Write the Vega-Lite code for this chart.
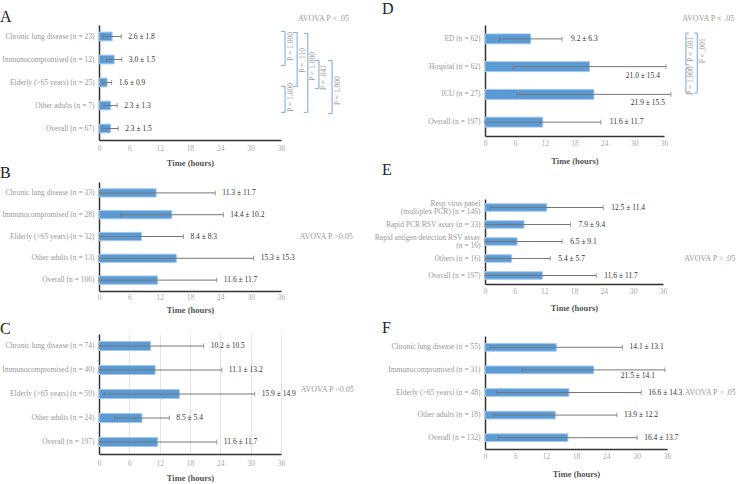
{
  "$schema": "https://vega.github.io/schema/vega-lite/v6.json",
  "padding": {"left": 0, "top": 0, "right": 0, "bottom": 0},
  "background": "white",
  "config": {
    "font": "Liberation Serif",
    "view": {"stroke": null},
    "axis": {"labelFont": "Liberation Serif", "titleFont": "Liberation Serif", "domainColor": "#333", "domainWidth": 1.5, "ticks": false, "tickSize": 0, "grid": false, "labelFontSize": 7.5, "labelColor": "#999", "labelPadding": 5, "labelOverlap": false},
    "axisX": {"labelFlush": false, "labelColor": "#aaa", "labelPadding": 3, "titleFontSize": 8.5, "titleFontWeight": "bold", "titleColor": "#555", "titlePadding": 8, "labelOverlap": false},
    "title": {"anchor": "start", "frame": "group", "font": "Liberation Serif", "fontSize": 16, "fontWeight": "normal", "color": "#222"},
    "text": {"font": "Liberation Serif"}
  },
  "spacing": 19,
  "hconcat": [
    {
      "spacing": -2,
      "vconcat": [
        {
          "title": {"text": "A", "dx": -99, "offset": -10},
          "width": 182, "height": 115,
          "resolve": {"scale": {"y": "independent"}},
          "layer": [
            {
              "data": {"values": [
                {"group": "Chronic lung disease (n = 23)", "mean": 2.6, "lo": 0.8, "hi": 4.4, "txt": "2.6 ± 1.8"},
                {"group": "Immunocompromised (n = 12)", "mean": 3.0, "lo": 1.5, "hi": 4.5, "txt": "3.0 ± 1.5"},
                {"group": "Elderly (>65 years) (n = 25)", "mean": 1.6, "lo": 0.7, "hi": 2.5, "txt": "1.6 ± 0.9"},
                {"group": "Other adults (n = 7)", "mean": 2.3, "lo": 1.0, "hi": 3.6, "txt": "2.3 ± 1.3"},
                {"group": "Overall (n = 67)", "mean": 2.3, "lo": 0.8, "hi": 3.8, "txt": "2.3 ± 1.5"}
              ]},
              "encoding": {"y": {"field": "group", "type": "nominal", "sort": null, "title": null, "scale": {"paddingInner": 0.62, "paddingOuter": 0.31}}},
              "layer": [
                {"mark": {"type": "bar", "color": "#5b9bd5", "stroke": "#a6c8ea", "strokeWidth": 1}, "encoding": {"x": {"field": "mean", "type": "quantitative", "title": "Time (hours)", "scale": {"domain": [0, 36], "nice": false}, "axis": {"values": [0, 6, 12, 18, 24, 30, 36], "tickCount": 7, "labelOverlap": false, "labelPadding": 4, "titlePadding": 7}}}},
                {"mark": {"type": "rule", "color": "#777", "strokeWidth": 1}, "encoding": {"x": {"field": "lo", "type": "quantitative", "title": "Time (hours)", "scale": {"domain": [0, 36], "nice": false}}, "x2": {"field": "hi"}}},
                {"mark": {"type": "tick", "color": "#777", "thickness": 1, "size": 5}, "encoding": {"x": {"field": "lo", "type": "quantitative", "title": "Time (hours)", "scale": {"domain": [0, 36], "nice": false}}}},
                {"mark": {"type": "tick", "color": "#777", "thickness": 1, "size": 5}, "encoding": {"x": {"field": "hi", "type": "quantitative", "title": "Time (hours)", "scale": {"domain": [0, 36], "nice": false}}}},
                {"transform": [{"filter": "datum.hi < 34"}], "mark": {"type": "text", "align": "left", "dx": 7, "fontSize": 7.5, "color": "#333"}, "encoding": {"x": {"field": "hi", "type": "quantitative", "title": "Time (hours)", "scale": {"domain": [0, 36], "nice": false}}, "text": {"field": "txt"}}}
              ]
            },
            {
              "data": {"values": [
                {"x": 36.8, "xe": 36.0, "y1": 0.28, "y2": 1.76, "ym": 0.93, "txt": "P = 1.000"},
                {"x": 39.2, "xe": 38.4, "y1": 0.33, "y2": 2.67, "ym": 1.54, "txt": "P = .110"},
                {"x": 41.3, "xe": 40.5, "y1": 0.37, "y2": 3.8, "ym": 1.8, "txt": "P = 1.000"},
                {"x": 43.5, "xe": 42.7, "y1": 1.54, "y2": 2.76, "ym": 2.28, "txt": "P = .041"},
                {"x": 46.1, "xe": 45.3, "y1": 1.54, "y2": 3.85, "ym": 2.85, "txt": "P = 1.000"},
                {"x": 36.8, "xe": 36.0, "y1": 2.67, "y2": 3.8, "ym": 3.15, "txt": "P = 1.000"}
              ]},
              "layer": [
                {"mark": {"type": "rule", "color": "#8db4e2", "strokeWidth": 1.2}, "encoding": {"x": {"field": "x", "type": "quantitative", "title": "Time (hours)", "scale": {"domain": [0, 36], "nice": false}}, "y": {"field": "y1", "type": "quantitative", "scale": {"domain": [0, 5], "reverse": true, "nice": false, "zero": false}, "axis": null}, "y2": {"field": "y2"}}},
                {"mark": {"type": "rule", "color": "#8db4e2", "strokeWidth": 1.2}, "encoding": {"x": {"field": "xe", "type": "quantitative", "title": "Time (hours)", "scale": {"domain": [0, 36], "nice": false}}, "x2": {"field": "x"}, "y": {"field": "y1", "type": "quantitative", "scale": {"domain": [0, 5], "reverse": true, "nice": false, "zero": false}, "axis": null}}},
                {"mark": {"type": "rule", "color": "#8db4e2", "strokeWidth": 1.2}, "encoding": {"x": {"field": "xe", "type": "quantitative", "title": "Time (hours)", "scale": {"domain": [0, 36], "nice": false}}, "x2": {"field": "x"}, "y": {"field": "y2", "type": "quantitative", "scale": {"domain": [0, 5], "reverse": true, "nice": false, "zero": false}, "axis": null}}},
                {"mark": {"type": "text", "angle": 270, "baseline": "top", "align": "center", "dy": 1.5, "fontSize": 7.5, "color": "#999"}, "encoding": {"x": {"field": "x", "type": "quantitative", "title": "Time (hours)", "scale": {"domain": [0, 36], "nice": false}}, "y": {"field": "ym", "type": "quantitative", "scale": {"domain": [0, 5], "reverse": true, "nice": false, "zero": false}, "axis": null}, "text": {"field": "txt"}}},
                {"data": {"values": [{"x": 44.4, "y": -0.28, "txt": "AVOVA P < .05"}]}, "mark": {"type": "text", "align": "center", "fontSize": 8, "color": "#999"}, "encoding": {"x": {"field": "x", "type": "quantitative", "title": "Time (hours)", "scale": {"domain": [0, 36], "nice": false}}, "y": {"field": "y", "type": "quantitative", "scale": {"domain": [0, 5], "reverse": true, "nice": false, "zero": false}, "axis": null}, "text": {"field": "txt"}}}
              ]
            }
          ]
        },
        {
          "title": {"text": "B", "dx": -99, "offset": 1},
          "width": 182, "height": 109,
          "layer": [
            {
              "data": {"values": [
                {"group": "Chronic lung disease (n = 33)", "mean": 11.3, "lo": 0, "hi": 23.0, "txt": "11.3 ± 11.7"},
                {"group": "Immunocompromised (n = 28)", "mean": 14.4, "lo": 4.2, "hi": 24.6, "txt": "14.4 ± 10.2"},
                {"group": "Elderly (>65 years) (n = 32)", "mean": 8.4, "lo": 0.1, "hi": 16.7, "txt": "8.4 ± 8.3"},
                {"group": "Other adults (n = 13)", "mean": 15.3, "lo": 0, "hi": 30.6, "txt": "15.3 ± 15.3"},
                {"group": "Overall (n = 106)", "mean": 11.6, "lo": 0, "hi": 23.3, "txt": "11.6 ± 11.7"}
              ]},
              "encoding": {"y": {"field": "group", "type": "nominal", "sort": null, "title": null, "scale": {"paddingInner": 0.62, "paddingOuter": 0.31}}},
              "layer": [
                {"mark": {"type": "bar", "color": "#5b9bd5", "stroke": "#a6c8ea", "strokeWidth": 1}, "encoding": {"x": {"field": "mean", "type": "quantitative", "title": "Time (hours)", "scale": {"domain": [0, 36], "nice": false}, "axis": {"values": [0, 6, 12, 18, 24, 30, 36], "tickCount": 7, "labelOverlap": false, "labelPadding": 2, "titlePadding": 5}}}},
                {"mark": {"type": "rule", "color": "#777", "strokeWidth": 1}, "encoding": {"x": {"field": "lo", "type": "quantitative", "title": "Time (hours)", "scale": {"domain": [0, 36], "nice": false}}, "x2": {"field": "hi"}}},
                {"mark": {"type": "tick", "color": "#777", "thickness": 1, "size": 5}, "encoding": {"x": {"field": "lo", "type": "quantitative", "title": "Time (hours)", "scale": {"domain": [0, 36], "nice": false}}}},
                {"mark": {"type": "tick", "color": "#777", "thickness": 1, "size": 5}, "encoding": {"x": {"field": "hi", "type": "quantitative", "title": "Time (hours)", "scale": {"domain": [0, 36], "nice": false}}}},
                {"transform": [{"filter": "datum.hi < 34"}], "mark": {"type": "text", "align": "left", "dx": 7, "fontSize": 7.5, "color": "#333"}, "encoding": {"x": {"field": "hi", "type": "quantitative", "title": "Time (hours)", "scale": {"domain": [0, 36], "nice": false}}, "text": {"field": "txt"}}}
              ]
            },
            {"data": {"values": [{"group": "Elderly (>65 years) (n = 32)", "x": 39.7, "txt": "AVOVA P >0.05"}]}, "mark": {"type": "text", "align": "left", "fontSize": 8, "color": "#999"}, "encoding": {"x": {"field": "x", "type": "quantitative", "title": "Time (hours)", "scale": {"domain": [0, 36], "nice": false}}, "y": {"field": "group", "type": "nominal", "sort": null, "title": null}, "text": {"field": "txt"}}}
          ]
        },
        {
          "title": {"text": [" ", "C"], "lineHeight": 9, "dx": -99, "offset": -3},
          "width": 182, "height": 120,
          "layer": [
            {
              "data": {"values": [
                {"group": "Chronic lung disease (n = 74)", "mean": 10.2, "lo": 0, "hi": 20.7, "txt": "10.2 ± 10.5"},
                {"group": "Immunocompromised (n = 40)", "mean": 11.1, "lo": 0, "hi": 24.3, "txt": "11.1 ± 13.2"},
                {"group": "Elderly (>65 years) (n = 59)", "mean": 15.9, "lo": 1.0, "hi": 30.8, "txt": "15.9 ± 14.9"},
                {"group": "Other adults (n = 24)", "mean": 8.5, "lo": 3.1, "hi": 13.9, "txt": "8.5 ± 5.4"},
                {"group": "Overall (n = 197)", "mean": 11.6, "lo": 0, "hi": 23.3, "txt": "11.6 ± 11.7"}
              ]},
              "encoding": {"y": {"field": "group", "type": "nominal", "sort": null, "title": null, "scale": {"paddingInner": 0.62, "paddingOuter": 0.31}}},
              "layer": [
                {"mark": {"type": "bar", "color": "#5b9bd5", "stroke": "#a6c8ea", "strokeWidth": 1}, "encoding": {"x": {"field": "mean", "type": "quantitative", "title": "Time (hours)", "scale": {"domain": [0, 36], "nice": false}, "axis": {"values": [0, 6, 12, 18, 24, 30, 36], "tickCount": 7, "labelOverlap": false, "grid": true, "gridColor": "#e3e3e3", "labelPadding": 5.5, "titlePadding": 6}}}},
                {"mark": {"type": "rule", "color": "#777", "strokeWidth": 1}, "encoding": {"x": {"field": "lo", "type": "quantitative", "title": "Time (hours)", "scale": {"domain": [0, 36], "nice": false}}, "x2": {"field": "hi"}}},
                {"mark": {"type": "tick", "color": "#777", "thickness": 1, "size": 5}, "encoding": {"x": {"field": "lo", "type": "quantitative", "title": "Time (hours)", "scale": {"domain": [0, 36], "nice": false}}}},
                {"mark": {"type": "tick", "color": "#777", "thickness": 1, "size": 5}, "encoding": {"x": {"field": "hi", "type": "quantitative", "title": "Time (hours)", "scale": {"domain": [0, 36], "nice": false}}}},
                {"transform": [{"filter": "datum.hi < 34"}], "mark": {"type": "text", "align": "left", "dx": 7, "fontSize": 7.5, "color": "#333"}, "encoding": {"x": {"field": "hi", "type": "quantitative", "title": "Time (hours)", "scale": {"domain": [0, 36], "nice": false}}, "text": {"field": "txt"}}}
              ]
            },
            {"data": {"values": [{"group": "Elderly (>65 years) (n = 59)", "x": 39.9, "txt": "AVOVA P >0.05"}]}, "mark": {"type": "text", "align": "left", "fontSize": 8, "color": "#999", "dy": -4}, "encoding": {"x": {"field": "x", "type": "quantitative", "title": "Time (hours)", "scale": {"domain": [0, 36], "nice": false}}, "y": {"field": "group", "type": "nominal", "sort": null, "title": null}, "text": {"field": "txt"}}}
          ]
        }
      ]
    },
    {
      "spacing": -3,
      "vconcat": [
        {
          "title": {"text": "D", "dx": -103, "offset": -2},
          "width": 179, "height": 111,
          "resolve": {"scale": {"y": "independent"}},
          "layer": [
            {
              "data": {"values": [
                {"group": "ED (n = 62)", "mean": 9.2, "lo": 2.9, "hi": 15.5, "txt": "9.2 ± 6.3"},
                {"group": "Hospital (n = 62)", "mean": 21.0, "lo": 5.6, "hi": 36.4, "txt": "21.0 ± 15.4"},
                {"group": "ICU (n = 27)", "mean": 21.9, "lo": 6.4, "hi": 37.4, "txt": "21.9 ± 15.5"},
                {"group": "Overall (n = 197)", "mean": 11.6, "lo": 0, "hi": 23.3, "txt": "11.6 ± 11.7"}
              ]},
              "encoding": {"y": {"field": "group", "type": "nominal", "sort": null, "title": null, "scale": {"paddingInner": 0.64, "paddingOuter": 0.32}}},
              "layer": [
                {"mark": {"type": "bar", "color": "#5b9bd5", "stroke": "#a6c8ea", "strokeWidth": 1}, "encoding": {"x": {"field": "mean", "type": "quantitative", "title": "Time (hours)", "scale": {"domain": [0, 36], "nice": false}, "axis": {"values": [0, 6, 12, 18, 24, 30, 36], "tickCount": 7, "labelOverlap": false, "titlePadding": 10}}}},
                {"mark": {"type": "rule", "color": "#777", "strokeWidth": 1}, "encoding": {"x": {"field": "lo", "type": "quantitative", "title": "Time (hours)", "scale": {"domain": [0, 36], "nice": false}}, "x2": {"field": "hi"}}},
                {"mark": {"type": "tick", "color": "#777", "thickness": 1, "size": 5}, "encoding": {"x": {"field": "lo", "type": "quantitative", "title": "Time (hours)", "scale": {"domain": [0, 36], "nice": false}}}},
                {"mark": {"type": "tick", "color": "#777", "thickness": 1, "size": 5}, "encoding": {"x": {"field": "hi", "type": "quantitative", "title": "Time (hours)", "scale": {"domain": [0, 36], "nice": false}}}},
                {"transform": [{"filter": "datum.hi < 34"}], "mark": {"type": "text", "align": "left", "dx": 9, "fontSize": 7.5, "color": "#333"}, "encoding": {"x": {"field": "hi", "type": "quantitative", "title": "Time (hours)", "scale": {"domain": [0, 36], "nice": false}}, "text": {"field": "txt"}}},
                {"transform": [{"filter": "datum.hi >= 34"}], "mark": {"type": "text", "align": "right", "dx": -6, "dy": 9, "fontSize": 7.5, "color": "#333"}, "encoding": {"x": {"field": "hi", "type": "quantitative", "title": "Time (hours)", "scale": {"domain": [0, 36], "nice": false}}, "text": {"field": "txt"}}}
              ]
            },
            {
              "data": {"values": [
                {"x": 40.4, "xe": 41.0, "y1": 0.29, "y2": 1.44, "ym": 0.87, "txt": "P < .001"},
                {"x": 40.4, "xe": 41.0, "y1": 1.55, "y2": 2.45, "ym": 2.0, "txt": "P = 1.000"},
                {"x": 42.7, "xe": 42.1, "y1": 0.29, "y2": 2.45, "ym": 0.93, "txt": "P < .001"}
              ]},
              "layer": [
                {"mark": {"type": "rule", "color": "#8db4e2", "strokeWidth": 1.2}, "encoding": {"x": {"field": "x", "type": "quantitative", "title": "Time (hours)", "scale": {"domain": [0, 36], "nice": false}}, "y": {"field": "y1", "type": "quantitative", "scale": {"domain": [0, 4], "reverse": true, "nice": false, "zero": false}, "axis": null}, "y2": {"field": "y2"}}},
                {"mark": {"type": "rule", "color": "#8db4e2", "strokeWidth": 1.2}, "encoding": {"x": {"field": "xe", "type": "quantitative", "title": "Time (hours)", "scale": {"domain": [0, 36], "nice": false}}, "x2": {"field": "x"}, "y": {"field": "y1", "type": "quantitative", "scale": {"domain": [0, 4], "reverse": true, "nice": false, "zero": false}, "axis": null}}},
                {"mark": {"type": "rule", "color": "#8db4e2", "strokeWidth": 1.2}, "encoding": {"x": {"field": "xe", "type": "quantitative", "title": "Time (hours)", "scale": {"domain": [0, 36], "nice": false}}, "x2": {"field": "x"}, "y": {"field": "y2", "type": "quantitative", "scale": {"domain": [0, 4], "reverse": true, "nice": false, "zero": false}, "axis": null}}},
                {"mark": {"type": "text", "angle": 270, "baseline": "top", "align": "center", "dy": 1.5, "fontSize": 7.5, "color": "#999"}, "encoding": {"x": {"field": "x", "type": "quantitative", "title": "Time (hours)", "scale": {"domain": [0, 36], "nice": false}}, "y": {"field": "ym", "type": "quantitative", "scale": {"domain": [0, 4], "reverse": true, "nice": false, "zero": false}, "axis": null}, "text": {"field": "txt"}}},
                {"data": {"values": [{"x": 47.1, "y": -0.22, "a": "AVOVA P", "b": "<", "c": ".05"}]},
                 "encoding": {"x": {"field": "x", "type": "quantitative", "title": "Time (hours)", "scale": {"domain": [0, 36], "nice": false}}, "y": {"field": "y", "type": "quantitative", "scale": {"domain": [0, 4], "reverse": true, "nice": false, "zero": false}, "axis": null}},
                 "layer": [
                   {"mark": {"type": "text", "align": "right", "dx": -4, "fontSize": 8, "color": "#999"}, "encoding": {"text": {"field": "a"}}},
                   {"mark": {"type": "text", "align": "center", "fontSize": 8, "color": "#e8302a"}, "encoding": {"text": {"field": "b"}}},
                   {"mark": {"type": "text", "align": "left", "dx": 5, "fontSize": 8, "color": "#999"}, "encoding": {"text": {"field": "c"}}}
                 ]}
              ]
            }
          ]
        },
        {
          "title": {"text": "E", "dx": -103, "offset": 21},
          "width": 178, "height": 85,
          "layer": [
            {
              "data": {"values": [
                {"group": "Resp virus panel|(multiplex PCR) (n = 146)", "mean": 12.5, "lo": 1.1, "hi": 23.9, "txt": "12.5 ± 11.4"},
                {"group": "Rapid PCR RSV assay (n = 33)", "mean": 7.9, "lo": 0, "hi": 17.3, "txt": "7.9 ± 9.4"},
                {"group": "Rapid antigen detection RSV assay|(n = 16)", "mean": 6.5, "lo": 0, "hi": 15.6, "txt": "6.5 ± 9.1"},
                {"group": "Others (n = 16)", "mean": 5.4, "lo": 0, "hi": 13.2, "txt": "5.4 ± 5.7"},
                {"group": "Overall (n = 197)", "mean": 11.6, "lo": 0, "hi": 22.5, "txt": "11.6 ± 11.7"}
              ]},
              "encoding": {"y": {"field": "group", "type": "nominal", "sort": null, "title": null, "scale": {"paddingInner": 0.56, "paddingOuter": 0.28}, "axis": {"labelExpr": "split(datum.label, '|')", "labelLineHeight": 8.5, "labelOffset": {"condition": {"test": "indexof(datum.label, '|') >= 0", "value": -4}, "value": 0}}}},
              "layer": [
                {"mark": {"type": "bar", "color": "#5b9bd5", "stroke": "#a6c8ea", "strokeWidth": 1}, "encoding": {"x": {"field": "mean", "type": "quantitative", "title": "Time (hours)", "scale": {"domain": [0, 36], "nice": false}, "axis": {"values": [0, 6, 12, 18, 24, 30, 36], "tickCount": 7, "labelOverlap": false, "titlePadding": 9}}}},
                {"mark": {"type": "rule", "color": "#777", "strokeWidth": 1}, "encoding": {"x": {"field": "lo", "type": "quantitative", "title": "Time (hours)", "scale": {"domain": [0, 36], "nice": false}}, "x2": {"field": "hi"}}},
                {"mark": {"type": "tick", "color": "#777", "thickness": 1, "size": 5}, "encoding": {"x": {"field": "lo", "type": "quantitative", "title": "Time (hours)", "scale": {"domain": [0, 36], "nice": false}}}},
                {"mark": {"type": "tick", "color": "#777", "thickness": 1, "size": 5}, "encoding": {"x": {"field": "hi", "type": "quantitative", "title": "Time (hours)", "scale": {"domain": [0, 36], "nice": false}}}},
                {"transform": [{"filter": "datum.hi < 34"}], "mark": {"type": "text", "align": "left", "dx": 8, "fontSize": 7.5, "color": "#333"}, "encoding": {"x": {"field": "hi", "type": "quantitative", "title": "Time (hours)", "scale": {"domain": [0, 36], "nice": false}}, "text": {"field": "txt"}}}
              ]
            },
            {"data": {"values": [{"group": "Others (n = 16)", "x": 40.3, "txt": "AVOVA P > .05"}]}, "mark": {"type": "text", "align": "left", "fontSize": 8, "color": "#999"}, "encoding": {"x": {"field": "x", "type": "quantitative", "title": "Time (hours)", "scale": {"domain": [0, 36], "nice": false}}, "y": {"field": "group", "type": "nominal", "sort": null, "title": null}, "text": {"field": "txt"}}}
          ]
        },
        {
          "title": {"text": [" ", "F"], "lineHeight": 11, "dx": -103, "offset": 0},
          "width": 182, "height": 113,
          "layer": [
            {
              "data": {"values": [
                {"group": "Chronic lung disease (n = 55)", "mean": 14.1, "lo": 1.0, "hi": 27.2, "txt": "14.1 ± 13.1"},
                {"group": "Immunocompromised (n = 31)", "mean": 21.5, "lo": 7.4, "hi": 35.6, "txt": "21.5 ± 14.1"},
                {"group": "Elderly (>65 years) (n = 48)", "mean": 16.6, "lo": 2.3, "hi": 30.9, "txt": "16.6 ± 14.3"},
                {"group": "Other adults (n = 18)", "mean": 13.9, "lo": 1.7, "hi": 26.1, "txt": "13.9 ± 12.2"},
                {"group": "Overall (n = 132)", "mean": 16.4, "lo": 2.7, "hi": 30.1, "txt": "16.4 ± 13.7"}
              ]},
              "encoding": {"y": {"field": "group", "type": "nominal", "sort": null, "title": null, "scale": {"paddingInner": 0.66, "paddingOuter": 0.33}}},
              "layer": [
                {"mark": {"type": "bar", "color": "#5b9bd5", "stroke": "#a6c8ea", "strokeWidth": 1}, "encoding": {"x": {"field": "mean", "type": "quantitative", "title": "Time (hours)", "scale": {"domain": [0, 36], "nice": false}, "axis": {"values": [0, 6, 12, 18, 24, 30, 36], "tickCount": 7, "labelOverlap": false, "titlePadding": 10}}}},
                {"mark": {"type": "rule", "color": "#777", "strokeWidth": 1}, "encoding": {"x": {"field": "lo", "type": "quantitative", "title": "Time (hours)", "scale": {"domain": [0, 36], "nice": false}}, "x2": {"field": "hi"}}},
                {"mark": {"type": "tick", "color": "#777", "thickness": 1, "size": 5}, "encoding": {"x": {"field": "lo", "type": "quantitative", "title": "Time (hours)", "scale": {"domain": [0, 36], "nice": false}}}},
                {"mark": {"type": "tick", "color": "#777", "thickness": 1, "size": 5}, "encoding": {"x": {"field": "hi", "type": "quantitative", "title": "Time (hours)", "scale": {"domain": [0, 36], "nice": false}}}},
                {"transform": [{"filter": "datum.hi < 34"}], "mark": {"type": "text", "align": "left", "dx": 7, "fontSize": 7.5, "color": "#333"}, "encoding": {"x": {"field": "hi", "type": "quantitative", "title": "Time (hours)", "scale": {"domain": [0, 36], "nice": false}}, "text": {"field": "txt"}}},
                {"transform": [{"filter": "datum.hi >= 34"}], "mark": {"type": "text", "align": "right", "dx": -10, "dy": 6, "fontSize": 7.5, "color": "#333"}, "encoding": {"x": {"field": "hi", "type": "quantitative", "title": "Time (hours)", "scale": {"domain": [0, 36], "nice": false}}, "text": {"field": "txt"}}}
              ]
            },
            {"data": {"values": [{"group": "Elderly (>65 years) (n = 48)", "x": 39.5, "txt": "AVOVA P > .05"}]}, "mark": {"type": "text", "align": "left", "fontSize": 8, "color": "#999"}, "encoding": {"x": {"field": "x", "type": "quantitative", "title": "Time (hours)", "scale": {"domain": [0, 36], "nice": false}}, "y": {"field": "group", "type": "nominal", "sort": null, "title": null}, "text": {"field": "txt"}}}
          ]
        }
      ]
    }
  ]
}
